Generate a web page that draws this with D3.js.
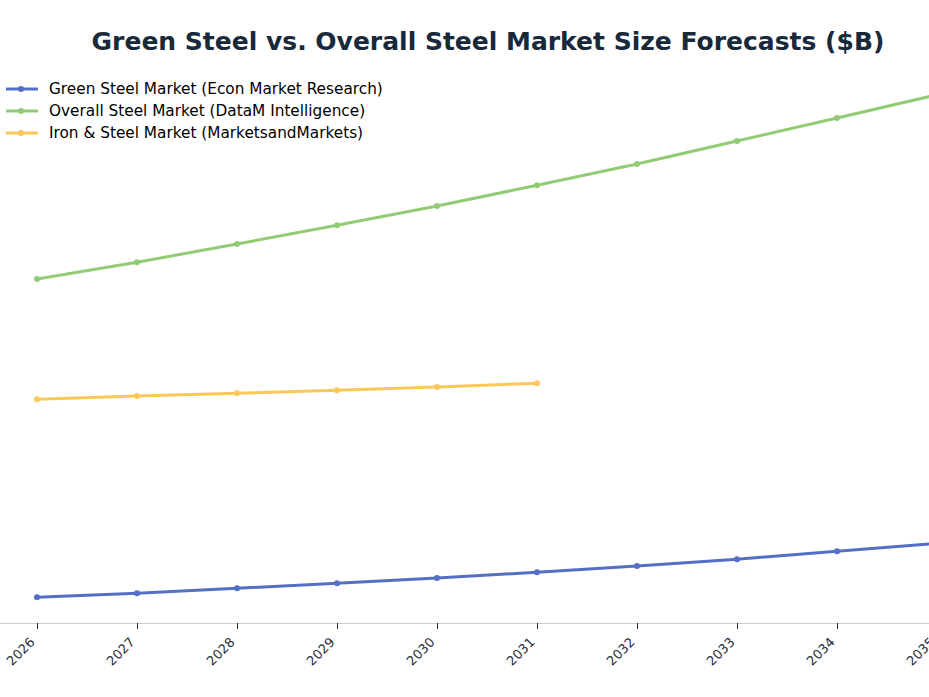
<!DOCTYPE html>
<html>
<head>
<meta charset="utf-8">
<script src="https://cdn.jsdelivr.net/npm/d3@7"></script>
<style>
  body { margin: 0; background: #fff; }
  svg { display: block; overflow: hidden; }
  .title { font-family: "DejaVu Sans", sans-serif; font-weight: bold; font-size: 25px; fill: #17293a; }
  .legend-text { font-family: "DejaVu Sans", sans-serif; font-size: 15.3px; fill: #000; }
  .tick text { font-family: "DejaVu Sans", sans-serif; font-size: 13px; fill: #1f2d3a; }
</style>
</head>
<body>
<svg id="chart" width="929" height="697"></svg>
<script>
// years on the x axis
var years = ['2026', '2027', '2028', '2029', '2030', '2031', '2032', '2033', '2034', '2035'];

// market size, $B
var greenSteel = [103, 119, 139, 159, 180, 203, 228, 255, 287, 318];
var overallSteel = [1376, 1443, 1516, 1591, 1668, 1751, 1836, 1928, 2020, 2113];
var ironSteel = [895, 908, 919, 931, 944, 959];

var seriesNames = [
  'Green Steel Market (Econ Market Research)',
  'Overall Steel Market (DataM Intelligence)',
  'Iron & Steel Market (MarketsandMarkets)'
];
var seriesColors = ['#5470c6', '#91cc75', '#fac858'];

var svg = d3.select('#chart');

var x = d3.scalePoint()
    .domain(years)
    .range([37, 937]);

var y = d3.scaleLinear()
    .domain([0, 2200])
    .range([623, 73]);

//title
svg.append('text')
    .attr('class', 'title')
    .attr('x', 488)
    .attr('y', 50)
    .attr('text-anchor', 'middle')
    .text('Green Steel vs. Overall Steel Market Size Forecasts ($B)');

//x axis
var xAxis = svg.append('g')
    .attr('transform', 'translate(0,623)')
    .call(d3.axisBottom(x).tickSize(6).tickSizeOuter(0));

xAxis.select('.domain')
    .attr('stroke', '#ccc')
    .attr('d', 'M0,0.5H929');
xAxis.selectAll('.tick line').attr('stroke', '#1f2d3a');
xAxis.selectAll('.tick text')
    .attr('text-anchor', 'end')
    .attr('x', 0)
    .attr('y', 0)
    .attr('dy', 0)
    .attr('transform', 'translate(-2,20) rotate(-45)');

//lines
var data = [greenSteel, overallSteel, ironSteel];

var line = d3.line()
    .x(function(d, i) { return x(years[i]); })
    .y(function(d) { return y(d); });

data.forEach(function(values, s) {
  var g = svg.append('g');

  g.append('path')
      .datum(values)
      .attr('fill', 'none')
      .attr('stroke', seriesColors[s])
      .attr('stroke-width', 3)
      .attr('stroke-linejoin', 'round')
      .attr('d', line);

  g.selectAll('circle')
      .data(values)
      .enter().append('circle')
      .attr('cx', function(d, i) { return x(years[i]); })
      .attr('cy', function(d) { return y(d); })
      .attr('r', 3)
      .attr('fill', seriesColors[s]);
});

//legend
var legend = svg.append('g')
    .attr('transform', 'translate(6,89)');

seriesNames.forEach(function(name, i) {
  var item = legend.append('g')
      .attr('transform', 'translate(0,' + (i * 22) + ')');

  item.append('line')
      .attr('x1', 0).attr('x2', 32)
      .attr('y1', 0).attr('y2', 0)
      .attr('stroke', seriesColors[i])
      .attr('stroke-width', 3);

  item.append('circle')
      .attr('cx', 15).attr('cy', 0)
      .attr('r', 3)
      .attr('fill', seriesColors[i]);

  item.append('text')
      .attr('class', 'legend-text')
      .attr('x', 43)
      .attr('y', 0)
      .attr('dy', '0.35em')
      .text(name);
});
</script>
</body>
</html>
